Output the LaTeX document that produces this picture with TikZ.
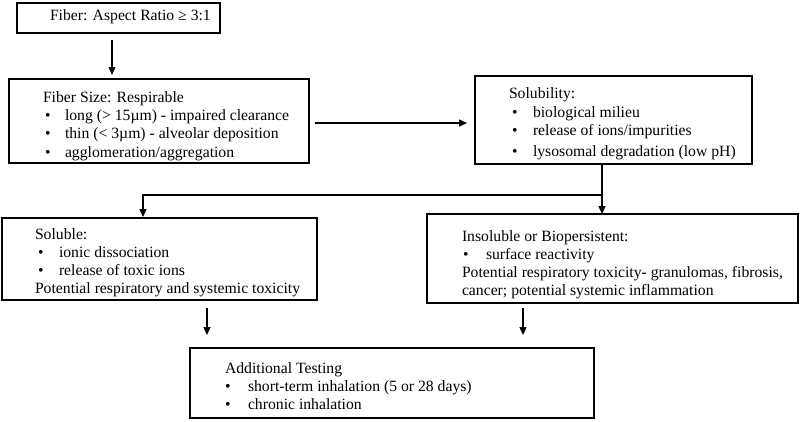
\documentclass[tikz,border=0pt]{standalone}
\usepackage{fontspec}
\setmainfont{Liberation Serif}
\usetikzlibrary{arrows.meta,calc}
\begin{document}
\begin{tikzpicture}[x=1pt,y=-1pt,
  box/.style={draw, line width=1.3pt, anchor=north west, inner sep=0pt, outer sep=0pt},
  txt/.style={anchor=base west, inner sep=0pt, outer sep=0pt, font=\fontsize{15.7}{18}\selectfont},
  arr/.style={line width=1.3pt, -{Triangle[length=8pt,width=7pt]}},
  ln/.style={line width=1.3pt}]
\useasboundingbox (0,0) rectangle (800,421);
% boxes
\node[box, minimum width=203pt, minimum height=30pt] (b1) at (17,3) {};
\node[box, minimum width=300pt, minimum height=84pt] (b2) at (9,79) {};
\node[box, minimum width=277pt, minimum height=88pt] (b3) at (475,76) {};
\node[box, minimum width=315pt, minimum height=82pt] (b4) at (2,218) {};
\node[box, minimum width=371pt, minimum height=89pt] (b5) at (427,214) {};
\node[box, minimum width=404pt, minimum height=70pt] (b6) at (190,348) {};
% texts
\node[txt] (t1) at (50,20) {Fiber: Aspect Ratio ≥ 3:1};
\node[txt] (t2a) at (43,102) {Fiber Size: Respirable};
\node[txt] (t2b) at (45,120) {•};
\node[txt] (t2c) at (65,120) {long (> 15µm) - impaired clearance};
\node[txt] (t2d) at (45,138) {•};
\node[txt] (t2e) at (65,138) {thin (< 3µm) - alveolar deposition};
\node[txt] (t2f) at (45,157) {•};
\node[txt] (t2g) at (65,157) {agglomeration/aggregation};
\node[txt] (t3a) at (509,98) {Solubility:};
\node[txt] (t3b) at (512,117) {•};
\node[txt] (t3c) at (533,117) {biological milieu};
\node[txt] (t3d) at (512,135) {•};
\node[txt] (t3e) at (533,135) {release of ions/impurities};
\node[txt] (t3f) at (512,156) {•};
\node[txt] (t3g) at (533,156) {lysosomal degradation (low pH)};
\node[txt] (t4a) at (35,239) {Soluble:};
\node[txt] (t4b) at (38,257) {•};
\node[txt] (t4c) at (59,257) {ionic dissociation};
\node[txt] (t4d) at (38,275) {•};
\node[txt] (t4e) at (59,275) {release of toxic ions};
\node[txt] (t4f) at (35,293) {Potential respiratory and systemic toxicity};
\node[txt] (t5a) at (462,241) {Insoluble or Biopersistent:};
\node[txt] (t5b) at (463,259) {•};
\node[txt] (t5c) at (486,259) {surface reactivity};
\node[txt] (t5d) at (462,277) {Potential respiratory toxicity- granulomas, fibrosis,};
\node[txt] (t5e) at (462,295) {cancer; potential systemic inflammation};
\node[txt] (t6a) at (225,373) {Additional Testing};
\node[txt] (t6b) at (225,391) {•};
\node[txt] (t6c) at (248,391) {short-term inhalation (5 or 28 days)};
\node[txt] (t6d) at (225,409) {•};
\node[txt] (t6e) at (248,409) {chronic inhalation};
% connectors
\coordinate (a1s) at ($(b1.south)+(-6.5,7)$);
\coordinate (a1e) at ($(b2.north)+(0,-4)$);
\draw[arr] (a1s) -- (a1s |- a1e);
\coordinate (h1) at ($(b2.east)+(6,2)$);
\coordinate (h2) at ($(b3.west)+(-8,0)$);
\draw[arr] (h1) -- (h1 -| h2);
\coordinate (sp) at ($(b3.south)+(-11.5,31)$);
\draw[ln] (b3.south -| sp) -- (sp);
\coordinate (l4) at ($(b4.north)+(-16.5,-1)$);
\draw[arr] (sp) -| (l4);
\draw[arr] (sp) -- (sp |- b5.north);
\coordinate (d1) at ($(b4.south)+(47.5,8)$);
\coordinate (d2) at ($(b5.south)+(-89.5,5)$);
\coordinate (de) at ($(b6.north)+(0,-13)$);
\draw[arr] (d1) -- (d1 |- de);
\draw[arr] (d2) -- (d2 |- de);
\end{tikzpicture}
\end{document}
